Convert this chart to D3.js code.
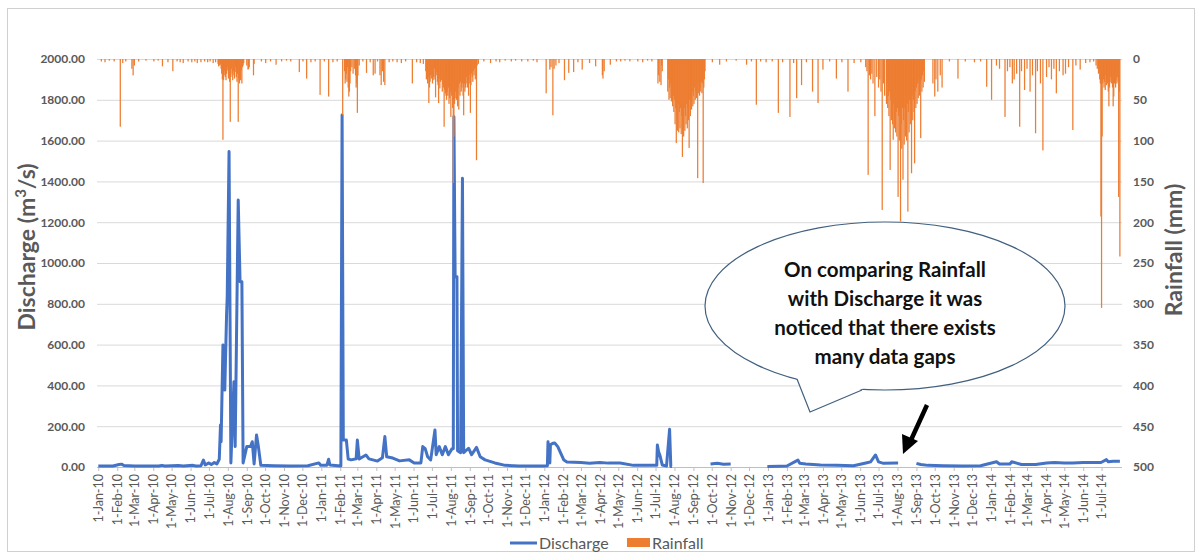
<!DOCTYPE html>
<html><head><meta charset="utf-8">
<script src="https://cdn.jsdelivr.net/npm/d3@7"></script>
<style>
body{margin:0;background:#fff;}
svg{display:block;font-family:Lato,"Open Sans",sans-serif;}
</style>
</head><body>
<svg id="chart" width="1203" height="559"></svg>
<script>
// ---------------- DATA ----------------
const dischargeTicks = [0,200,400,600,800,1000,1200,1400,1600,1800,2000];
const rainfallTicks = [0,50,100,150,200,250,300,350,400,450,500];
const dateStart = "2010-01-01", dateEnd = "2014-08-01", lastMonthTick = "2014-07-01";
const legendLabels = ["Discharge","Rainfall"];
const calloutLines = ["On comparing Rainfall","with Discharge it was","noticed that there exists","many data gaps"];

// Discharge (m3/s), null = data gap
const discharge2010 = [
["2010-01-01",5],["2010-01-25",5],["2010-02-04",12],["2010-02-08",14],["2010-02-12",7],["2010-03-01",5],["2010-04-10",5],["2010-04-15",8],["2010-04-20",5],["2010-05-12",7],["2010-05-20",5],["2010-06-05",8],["2010-06-10",5],["2010-06-18",6],["2010-06-22",34],["2010-06-25",10],["2010-07-01",20],["2010-07-05",12],["2010-07-10",22],["2010-07-14",15],["2010-07-18",38],["2010-07-20",206],["2010-07-21",124],["2010-07-24",598],["2010-07-27",377],["2010-07-30",753],["2010-07-31",835],["2010-08-03",1546],["2010-08-06",20],["2010-08-11",418],["2010-08-13",100],["2010-08-18",1309],["2010-08-21",908],["2010-08-24",908],["2010-08-26",20],["2010-09-01",100],["2010-09-07",100],["2010-09-10",124],["2010-09-13",15],["2010-09-17",157],["2010-09-20",100],["2010-09-24",8],["2010-10-15",6],["2010-11-10",5],["2010-12-10",6],["2010-12-28",20],["2010-12-31",8]
];
const discharge2011 = [
["2011-01-10",8],["2011-01-13",38],["2011-01-15",10],["2011-02-02",5],["2011-02-04",1725],["2011-02-06",132],["2011-02-11",132],["2011-02-14",39],["2011-02-19",35],["2011-02-27",40],["2011-03-01",132],["2011-03-04",39],["2011-03-15",59],["2011-03-20",40],["2011-04-03",29],["2011-04-11",45],["2011-04-15",149],["2011-04-18",50],["2011-04-28",44],["2011-05-09",30],["2011-05-25",35],["2011-06-02",20],["2011-06-13",20],["2011-06-16",100],["2011-06-20",90],["2011-06-24",50],["2011-06-29",35],["2011-07-06",181],["2011-07-08",60],["2011-07-13",100],["2011-07-18",60],["2011-07-23",100],["2011-07-28",60],["2011-08-03",90],["2011-08-05",90],["2011-08-06",1717],["2011-08-08",933],["2011-08-11",933],["2011-08-12",80],["2011-08-17",70],["2011-08-20",1415],["2011-08-22",70],["2011-08-30",92],["2011-09-04",60],["2011-09-12",96],["2011-09-18",50],["2011-09-26",35],["2011-10-12",20],["2011-10-29",8],["2011-11-20",5],["2011-12-31",5]
];
const discharge2012 = [
["2012-01-06",6],["2012-01-07",124],["2012-01-10",20],["2012-01-11",110],["2012-01-15",116],["2012-01-18",118],["2012-01-23",100],["2012-01-28",67],["2012-02-02",34],["2012-02-07",24],["2012-03-01",22],["2012-03-15",18],["2012-04-01",22],["2012-04-15",19],["2012-05-04",20],["2012-05-26",8],["2012-07-03",8],["2012-07-04",108],["2012-07-06",75],["2012-07-08",59],["2012-07-12",10],["2012-07-19",5],["2012-07-24",185],["2012-07-26",3],["2012-07-28",3],["2012-07-29",null],
["2012-09-29",15],["2012-10-10",18],["2012-10-20",14],["2012-11-01",15],["2012-11-02",null],
["2012-12-31",3]
];
const discharge2013 = [
["2013-01-20",4],["2013-02-01",5],["2013-02-19",34],["2013-02-22",18],["2013-03-04",15],["2013-03-28",10],["2013-04-24",8],["2013-05-21",6],["2013-06-12",21],["2013-06-18",25],["2013-06-26",59],["2013-07-01",25],["2013-07-09",18],["2013-07-31",20],["2013-08-02",20],["2013-08-03",null],
["2013-09-01",18],["2013-09-08",12],["2013-09-20",8],["2013-10-15",6],["2013-11-15",5],["2013-12-15",6]
];
const discharge2014 = [
["2014-01-10",26],["2014-01-15",15],["2014-02-01",15],["2014-02-04",26],["2014-02-20",12],["2014-03-15",12],["2014-04-02",20],["2014-04-15",22],["2014-05-01",20],["2014-05-15",20],["2014-06-01",22],["2014-06-15",22],["2014-06-30",22],["2014-07-09",36],["2014-07-12",26],["2014-07-20",28],["2014-07-31",28]
];

// Daily rainfall (mm)
const rain2010 = [
["2010-01-06",3],["2010-01-12",4],["2010-01-19",2],["2010-01-27",3],["2010-02-06",83],["2010-02-10",5],["2010-02-15",3],["2010-02-25",12],["2010-02-27",20],["2010-03-01",8],["2010-03-08",3],["2010-03-20",2],["2010-04-02",3],["2010-04-09",2],["2010-04-16",9],["2010-04-25",4],["2010-05-03",15],["2010-05-10",3],["2010-05-15",4],["2010-05-20",5],["2010-05-28",3],["2010-06-03",4],["2010-06-08",3],["2010-06-12",5],["2010-06-18",4],["2010-06-24",3],["2010-06-29",4],["2010-07-03",3],["2010-07-08",5],["2010-07-12",4],
["2010-07-16",6],["2010-07-17",9],["2010-07-18",8],["2010-07-19",4],["2010-07-20",7],["2010-07-21",12],["2010-07-22",18],["2010-07-23",25],["2010-07-24",99],["2010-07-25",26],["2010-07-26",20],["2010-07-27",15],["2010-07-28",22],["2010-07-29",26],["2010-07-30",18],["2010-07-31",10],
["2010-08-01",14],["2010-08-02",24],["2010-08-03",20],["2010-08-04",28],["2010-08-05",77],["2010-08-06",22],["2010-08-07",12],["2010-08-08",18],["2010-08-09",26],["2010-08-10",15],["2010-08-11",20],["2010-08-12",24],["2010-08-13",16],["2010-08-14",10],["2010-08-15",22],["2010-08-16",28],["2010-08-17",18],["2010-08-18",77],["2010-08-19",24],["2010-08-20",30],["2010-08-21",20],["2010-08-22",26],["2010-08-23",14],["2010-08-24",30],["2010-08-25",10],["2010-08-26",8],["2010-08-27",5],
["2010-09-01",8],["2010-09-03",13],["2010-09-04",12],["2010-09-05",10],["2010-09-12",20],["2010-09-13",6],["2010-09-25",3],["2010-10-02",5],["2010-10-10",3],["2010-10-19",7],["2010-10-28",3],["2010-11-05",2],["2010-11-12",3],["2010-11-26",16],["2010-12-02",3],["2010-12-08",24],["2010-12-15",4],["2010-12-22",3],["2010-12-30",44]
];
const rain2011 = [
["2011-01-06",3],["2011-01-13",46],["2011-01-20",4],["2011-01-27",3],["2011-02-05",69],["2011-02-08",15],["2011-02-09",30],["2011-02-10",25],["2011-02-11",18],["2011-02-12",28],["2011-02-13",10],["2011-02-14",35],["2011-02-15",46],["2011-02-16",40],["2011-02-17",30],["2011-02-18",15],["2011-02-20",10],["2011-02-22",18],["2011-02-24",12],["2011-02-26",20],["2011-02-27",35],["2011-02-28",30],["2011-03-01",66],["2011-03-02",20],["2011-03-04",8],
["2011-03-10",3],["2011-03-16",17],["2011-03-22",4],["2011-03-27",20],["2011-03-30",18],["2011-04-03",3],["2011-04-07",20],["2011-04-09",32],["2011-04-11",15],["2011-04-13",28],["2011-04-15",32],["2011-04-22",4],["2011-04-28",3],["2011-05-05",4],["2011-05-12",5],["2011-05-19",3],["2011-05-30",30],["2011-06-06",4],["2011-06-12",5],["2011-06-17",6],
["2011-06-21",15],["2011-06-22",25],["2011-06-23",18],["2011-06-24",30],["2011-06-25",22],["2011-06-26",54],["2011-06-27",35],["2011-06-28",28],["2011-06-29",20],["2011-06-30",24],
["2011-07-01",18],["2011-07-02",30],["2011-07-03",26],["2011-07-04",22],["2011-07-05",12],["2011-07-06",25],["2011-07-07",47],["2011-07-08",20],["2011-07-09",16],["2011-07-10",28],["2011-07-11",32],["2011-07-12",54],["2011-07-13",24],["2011-07-14",36],["2011-07-15",28],["2011-07-16",20],["2011-07-17",26],["2011-07-18",40],["2011-07-19",30],["2011-07-20",35],["2011-07-21",83],["2011-07-22",38],["2011-07-23",42],["2011-07-24",45],["2011-07-25",50],["2011-07-26",40],["2011-07-27",45],["2011-07-28",35],["2011-07-29",55],["2011-07-30",48],["2011-07-31",40],
["2011-08-01",71],["2011-08-02",45],["2011-08-03",38],["2011-08-04",60],["2011-08-05",152],["2011-08-06",95],["2011-08-07",55],["2011-08-08",48],["2011-08-09",40],["2011-08-10",50],["2011-08-11",42],["2011-08-12",58],["2011-08-13",35],["2011-08-14",62],["2011-08-15",30],["2011-08-16",45],["2011-08-17",28],["2011-08-18",40],["2011-08-19",35],["2011-08-20",30],["2011-08-21",45],["2011-08-22",69],["2011-08-23",30],["2011-08-24",40],["2011-08-25",35],["2011-08-26",30],["2011-08-27",22],["2011-08-28",35],["2011-08-29",26],["2011-08-30",45],["2011-08-31",30],
["2011-09-01",20],["2011-09-02",66],["2011-09-03",32],["2011-09-04",18],["2011-09-05",22],["2011-09-06",28],["2011-09-07",15],["2011-09-08",20],["2011-09-09",12],["2011-09-10",25],["2011-09-11",10],["2011-09-12",124],["2011-09-13",8],["2011-09-15",6],
["2011-09-24",3],["2011-10-05",5],["2011-10-14",3],["2011-10-20",4],["2011-10-29",2],["2011-11-08",3],["2011-11-15",2],["2011-11-25",3],["2011-12-05",3],["2011-12-14",2],["2011-12-20",4]
];
const rain2012 = [
["2012-01-04",42],["2012-01-10",13],["2012-01-12",10],["2012-01-15",69],["2012-01-17",12],["2012-01-20",8],["2012-01-25",5],["2012-02-03",26],["2012-02-10",17],["2012-02-18",16],["2012-02-25",4],["2012-03-03",13],["2012-03-15",5],["2012-03-25",9],["2012-04-05",20],["2012-04-06",24],["2012-04-08",15],["2012-04-18",7],["2012-04-28",3],["2012-05-05",3],["2012-05-12",2],["2012-05-20",3],["2012-06-02",3],["2012-06-10",4],["2012-06-18",2],["2012-06-25",3],
["2012-07-05",30],["2012-07-06",20],["2012-07-08",28],["2012-07-10",32],["2012-07-11",8],["2012-07-12",15],
["2012-07-21",40],["2012-07-22",25],["2012-07-23",50],["2012-07-24",35],["2012-07-25",48],["2012-07-26",30],["2012-07-27",52],["2012-07-28",40],["2012-07-29",58],["2012-07-30",45],["2012-07-31",65],
["2012-08-01",50],["2012-08-02",80],["2012-08-03",60],["2012-08-04",103],["2012-08-05",70],["2012-08-06",88],["2012-08-07",55],["2012-08-08",90],["2012-08-09",65],["2012-08-10",85],["2012-08-11",60],["2012-08-12",92],["2012-08-13",70],["2012-08-14",120],["2012-08-15",75],["2012-08-16",95],["2012-08-17",60],["2012-08-18",88],["2012-08-19",70],["2012-08-20",80],["2012-08-21",55],["2012-08-22",85],["2012-08-23",60],["2012-08-24",75],["2012-08-25",109],["2012-08-26",50],["2012-08-27",70],["2012-08-28",45],["2012-08-29",62],["2012-08-30",40],["2012-08-31",58],
["2012-09-01",45],["2012-09-02",55],["2012-09-03",35],["2012-09-04",50],["2012-09-05",40],["2012-09-06",48],["2012-09-07",30],["2012-09-08",146],["2012-09-09",42],["2012-09-10",30],["2012-09-11",45],["2012-09-12",35],["2012-09-13",40],["2012-09-14",28],["2012-09-15",42],["2012-09-16",30],["2012-09-17",152],["2012-09-18",35],["2012-09-19",25],["2012-09-20",15],
["2012-10-02",4],["2012-10-14",7],["2012-10-25",3],["2012-11-10",2],["2012-11-27",7],["2012-12-05",3],["2012-12-13",56],["2012-12-20",3],["2012-12-29",4]
];
const rain2013 = [
["2013-01-08",3],["2013-01-18",66],["2013-01-25",4],["2013-02-06",71],["2013-02-12",5],["2013-02-17",48],["2013-02-25",32],["2013-03-05",4],["2013-03-15",40],["2013-03-24",54],["2013-04-01",13],["2013-04-12",3],["2013-04-23",24],["2013-05-02",4],["2013-05-12",40],["2013-05-22",5],["2013-06-02",4],
["2013-06-10",10],["2013-06-12",15],["2013-06-14",142],["2013-06-16",20],["2013-06-18",25],["2013-06-20",18],["2013-06-22",30],["2013-06-25",70],["2013-06-28",22],["2013-07-01",35],["2013-07-03",25],["2013-07-05",40],["2013-07-07",185],["2013-07-09",30],["2013-07-11",45],
["2013-07-14",55],["2013-07-15",30],["2013-07-16",60],["2013-07-17",45],["2013-07-18",70],["2013-07-19",40],["2013-07-20",136],["2013-07-21",50],["2013-07-22",75],["2013-07-23",45],["2013-07-24",80],["2013-07-25",99],["2013-07-26",55],["2013-07-27",85],["2013-07-28",60],["2013-07-29",90],["2013-07-30",65],["2013-07-31",95],
["2013-08-01",60],["2013-08-02",169],["2013-08-03",70],["2013-08-04",100],["2013-08-05",65],["2013-08-06",199],["2013-08-07",80],["2013-08-08",110],["2013-08-09",60],["2013-08-10",148],["2013-08-11",75],["2013-08-12",105],["2013-08-13",60],["2013-08-14",95],["2013-08-15",70],["2013-08-16",100],["2013-08-17",55],["2013-08-18",187],["2013-08-19",65],["2013-08-20",90],["2013-08-21",50],["2013-08-22",80],["2013-08-23",55],["2013-08-24",140],["2013-08-25",45],["2013-08-26",75],["2013-08-27",50],["2013-08-28",65],["2013-08-29",128],["2013-08-30",40],["2013-08-31",60],
["2013-09-01",35],["2013-09-02",55],["2013-09-03",30],["2013-09-04",48],["2013-09-05",25],["2013-09-06",45],["2013-09-07",30],["2013-09-08",97],["2013-09-09",25],["2013-09-10",40],["2013-09-11",20],["2013-09-12",35],["2013-09-13",15],["2013-09-14",28],
["2013-09-28",30],["2013-10-01",46],["2013-10-03",25],["2013-10-06",40],["2013-10-10",20],["2013-10-13",35],["2013-10-25",3],["2013-11-08",24],["2013-11-20",3],["2013-12-05",4],["2013-12-15",3],["2013-12-25",34]
];
const rain2014 = [
["2014-01-02",50],["2014-01-10",8],["2014-01-15",12],["2014-01-24",71],["2014-01-28",15],["2014-02-01",10],["2014-02-05",30],["2014-02-08",25],["2014-02-12",18],["2014-02-17",83],["2014-02-20",15],["2014-02-25",38],["2014-03-01",12],["2014-03-06",40],["2014-03-10",20],["2014-03-15",91],["2014-03-18",15],["2014-03-23",30],["2014-03-27",112],["2014-04-02",22],["2014-04-06",10],["2014-04-10",25],["2014-04-14",12],["2014-04-18",42],["2014-04-23",15],["2014-04-29",20],["2014-05-03",18],["2014-05-08",10],["2014-05-15",87],["2014-05-20",8],["2014-05-27",13],["2014-06-05",5],["2014-06-12",4],["2014-06-18",3],
["2014-06-22",8],["2014-06-24",12],["2014-06-26",18],["2014-06-27",15],["2014-06-28",25],["2014-06-29",30],["2014-06-30",193],["2014-07-01",305],["2014-07-02",95],["2014-07-03",30],["2014-07-04",25],["2014-07-05",35],["2014-07-06",28],["2014-07-07",38],["2014-07-08",20],["2014-07-09",32],["2014-07-10",25],["2014-07-11",30],["2014-07-12",40],["2014-07-13",58],["2014-07-14",35],["2014-07-15",28],["2014-07-16",22],["2014-07-17",30],["2014-07-18",25],["2014-07-19",35],["2014-07-20",58],["2014-07-21",46],["2014-07-22",30],["2014-07-23",28],["2014-07-24",35],["2014-07-25",25],["2014-07-26",30],["2014-07-27",22],["2014-07-28",28],["2014-07-29",169],["2014-07-30",40],["2014-07-31",242]
];

// ---------------- CHART ----------------
const parse = d3.timeParse("%Y-%m-%d");
const discharge = [...discharge2010,...discharge2011,...discharge2012,...discharge2013,...discharge2014].map(d=>({date:parse(d[0]),v:d[1]}));
const rainfall = [...rain2010,...rain2011,...rain2012,...rain2013,...rain2014].map(d=>({date:parse(d[0]),v:d[1]}));

const svg = d3.select("#chart");
const plot = {left:97, right:1122, top:59, bottom:467};

// outer frame
svg.append("rect").attr("x",7.5).attr("y",8.5).attr("width",1187).attr("height",543)
  .attr("fill","none").attr("stroke","#d0d0d0").attr("stroke-width",1);

const x = d3.scaleTime().domain([parse(dateStart),parse(dateEnd)]).range([98.3,1120.5]);
const yQ = d3.scaleLinear().domain([0,2000]).range([plot.bottom,plot.top]);
const yR = d3.scaleLinear().domain([0,500]).range([plot.top,plot.bottom]);

// gridlines
svg.append("g").selectAll("line").data(dischargeTicks.slice(1)).join("line")
  .attr("x1",plot.left).attr("x2",plot.right)
  .attr("y1",d=>yQ(d)+0.5).attr("y2",d=>yQ(d)+0.5)
  .attr("stroke","#d9d9d9").attr("stroke-width",1);

// left axis
const gL = svg.append("g").attr("transform",`translate(${plot.left},0)`)
  .call(d3.axisLeft(yQ).tickValues(dischargeTicks).tickFormat(d3.format(".2f")).tickSize(0).tickPadding(12));
gL.select(".domain").remove();
gL.selectAll("text").attr("fill","#595959").style("font-size","12px").style("font-weight","bold").style("font-family","Lato");

// right axis
const gR = svg.append("g").attr("transform",`translate(${plot.right},0)`)
  .call(d3.axisRight(yR).tickValues(rainfallTicks).tickFormat(d3.format("d")).tickSize(0).tickPadding(11));
gR.select(".domain").remove();
gR.selectAll("text").attr("fill","#595959").style("font-size","12px").style("font-weight","bold").style("font-family","Lato");

// bottom axis
const monthTicks = d3.timeMonth.range(parse(dateStart), d3.timeDay.offset(parse(lastMonthTick),1));
const gB = svg.append("g").attr("transform",`translate(0,${plot.bottom})`)
  .call(d3.axisBottom(x).tickValues(monthTicks).tickFormat(d3.timeFormat("%-d-%b-%y")).tickSize(4).tickSizeOuter(0));
gB.select(".domain").attr("d",`M${plot.left},0.5H${plot.right}`).attr("stroke","#bfbfbf");
gB.selectAll(".tick line").attr("stroke","#bfbfbf");
gB.selectAll("text").attr("fill","#595959").style("font-size","12.5px").style("font-family","Lato")
  .attr("transform","rotate(-90)").attr("x",-7).attr("y",0).attr("dy","0.35em").style("text-anchor","end");

// discharge line
const line = d3.line().defined(d=>d.v!=null).x(d=>x(d.date)).y(d=>yQ(d.v));
svg.append("path").datum(discharge).attr("d",line)
  .attr("fill","none").attr("stroke","#4472c4").attr("stroke-width",3).attr("stroke-linejoin","round");

// rainfall bars (secondary axis, reversed)
svg.append("g").selectAll("rect").data(rainfall).join("rect")
  .attr("x",d=>x(d.date)-0.63).attr("width",1.25)
  .attr("y",yR(0)).attr("height",d=>yR(d.v)-yR(0))
  .attr("fill","#ed7d31");

// axis titles
svg.append("text").attr("transform","translate(35,247) rotate(-90)").attr("text-anchor","middle")
  .attr("fill","#595959").style("font-size","23px").style("font-weight","bold")
  .call(t=>{t.append("tspan").text("Discharge (m");t.append("tspan").attr("dy",-9).style("font-size","15px").text("3");t.append("tspan").attr("dy",9).text("/s)");});
svg.append("text").attr("transform","translate(1182,250) rotate(-90)").attr("text-anchor","middle")
  .attr("fill","#595959").style("font-size","23px").style("font-weight","bold").text("Rainfall (mm)");

// callout
const co = svg.append("g");
co.append("ellipse").attr("cx",885).attr("cy",306).attr("rx",180).attr("ry",84)
  .attr("fill","#fff").attr("stroke","#41607f").attr("stroke-width",1.2);
co.append("path").attr("d","M796,376 L810,412 L864,388 Z").attr("fill","#fff");
co.append("path").attr("d","M797,379 L810,412 L862,390").attr("fill","none").attr("stroke","#41607f").attr("stroke-width",1.2);
co.selectAll("text").data(calloutLines).join("text")
  .attr("x",885).attr("y",(d,i)=>277+i*29).attr("text-anchor","middle")
  .style("font-size","20.5px").style("font-weight","bold").attr("fill","#111").text(d=>d);

// arrow
svg.append("line").attr("x1",927).attr("y1",405).attr("x2",911).attr("y2",440)
  .attr("stroke","#000").attr("stroke-width",4.5);
svg.append("path").attr("d","M903,454 L902,434 L918,441 Z").attr("fill","#000");

// legend
const lg = svg.append("g");
lg.append("line").attr("x1",510).attr("x2",537).attr("y1",543).attr("y2",543).attr("stroke","#4472c4").attr("stroke-width",3);
lg.append("text").attr("x",539).attr("y",548.5).text(legendLabels[0]).attr("fill","#595959").style("font-size","16px");
lg.append("rect").attr("x",627).attr("y",538).attr("width",23).attr("height",9).attr("fill","#ed7d31");
lg.append("text").attr("x",652).attr("y",548.5).text(legendLabels[1]).attr("fill","#595959").style("font-size","16px");
</script>
</body></html>
